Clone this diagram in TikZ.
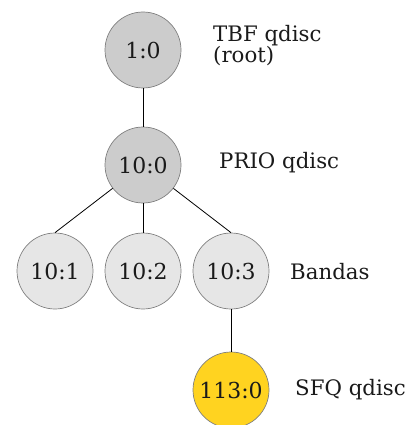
\documentclass[tikz,border=0pt]{standalone}
\usepackage{fontspec}
\setmainfont{DejaVu Serif}
\definecolor{qgray}{HTML}{CCCCCC}
\definecolor{qlight}{HTML}{E6E6E6}
\definecolor{qyellow}{HTML}{FFD320}
\definecolor{qedge}{HTML}{808080}
\definecolor{qtext}{HTML}{1A1A1A}
\begin{document}
\begin{tikzpicture}[x=1pt,y=-1pt,
  class/.style={circle,draw=qedge,line width=0.7pt,minimum size=76pt,inner sep=0pt,
    text=qtext,font=\fontsize{22}{21}\selectfont},
  rootcls/.style={class,fill=qgray},
  band/.style={class,fill=qlight},
  leaf/.style={class,fill=qyellow},
  note/.style={anchor=base west,inner sep=0pt,text=qtext,align=left,
    font=\fontsize{21.3}{21}\selectfont},
  link/.style={draw=black,line width=0.8pt}]
\useasboundingbox (0,0) rectangle (414,425);
% qdisc tree
\node[rootcls] (root) at (143,50) {1:0};
\node[rootcls] (prio) at (143,165) {10:0};
\node[band] (b1) at (55,271) {10:1};
\node[band] (b2) at (143,271) {10:2};
\node[band] (b3) at (231,271) {10:3};
\node[leaf] (sfq) at (231,390) {113:0};
% links between classes
\draw[link] (root) -- (prio);
\draw[link] (prio) -- (b1.north);
\draw[link] (prio) -- (b2);
\draw[link] (prio) -- (b3.north);
\draw[link] (b3) -- (sfq);
% descriptions
\node[note] (lroot) at (213,63) {TBF qdisc\\(root)};
\node[note] (lprio) at (219,168) {PRIO qdisc};
\node[note] (lband) at (290,279) {Bandas};
\node[note] (lsfq) at (295,395) {SFQ qdisc};
\end{tikzpicture}
\end{document}
